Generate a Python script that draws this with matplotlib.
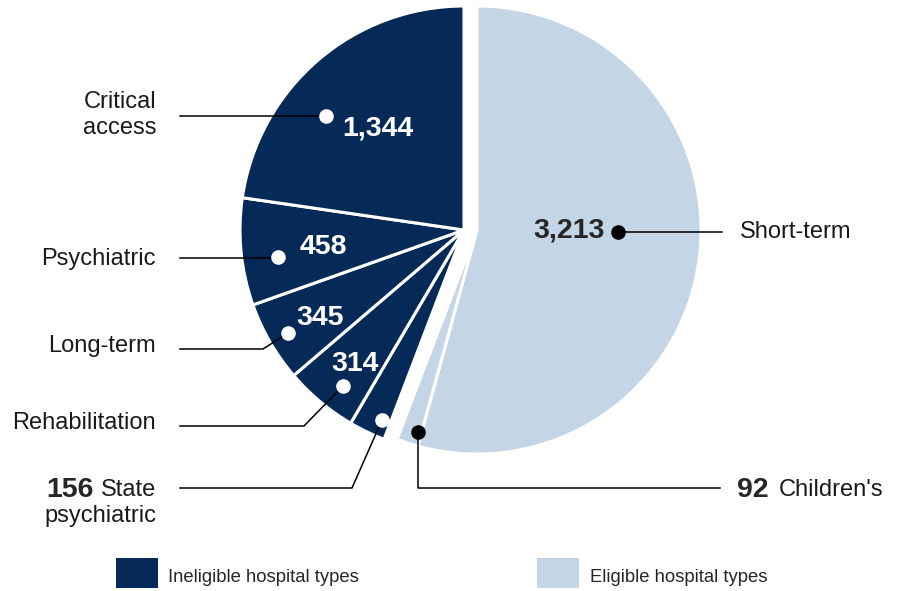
import matplotlib
matplotlib.use("Agg")
import matplotlib.pyplot as plt
from matplotlib.patches import Rectangle

# Hospital counts by type (clockwise from 12 o'clock)
categories = ["Short-term", "Children's", "State psychiatric", "Rehabilitation",
              "Long-term", "Psychiatric", "Critical access"]
counts = [3213, 92, 156, 314, 345, 458, 1344]
eligible = [True, True, False, False, False, False, False]

DARK = "#062a58"
LIGHT = "#c4d5e6"
W, H = 897, 591

plt.rcParams["font.family"] = ["Liberation Sans", "DejaVu Sans"]

fig = plt.figure(figsize=(W / 100, H / 100), dpi=100)
ax = fig.add_axes([0, 0, 1, 1])


def Y(y):
    return H - y


colors = [LIGHT if e else DARK for e in eligible]
radius = 224
# Ineligible group at its own centre, eligible group pulled out to the right
for group_center, show_eligible in [((464, Y(230)), False), ((477, Y(230)), True)]:
    wedges, _ = ax.pie(counts, colors=colors, startangle=90, counterclock=False,
                       radius=radius, center=group_center, frame=True,
                       wedgeprops=dict(edgecolor="white", linewidth=2.2))
    for w, e in zip(wedges, eligible):
        w.set_visible(e == show_eligible)

ax.set_xlim(0, W)
ax.set_ylim(0, H)
ax.set_aspect("equal")
ax.axis("off")

LBL = 17
NUM = 20.5
line_kw = dict(color="black", linewidth=1.1, zorder=3)


def dot(x, y, c):
    ax.plot([x], [Y(y)], "o", color=c, markersize=10.5, markeredgewidth=0, zorder=4)


def leader(points):
    ax.plot([p[0] for p in points], [Y(p[1]) for p in points], **line_kw)


def val(i):
    return f"{counts[i]:,}"


# Critical access
leader([(180, 116), (326, 116)])
dot(326, 116, "white")
ax.text(378, Y(128), val(6), color="white", fontsize=NUM, fontweight="bold",
        ha="center", va="center", zorder=5)
ax.text(156, Y(115), "Critical\naccess", fontsize=LBL, ha="right", va="center",
        linespacing=1.25, color="#1a1a1a")

# Psychiatric
leader([(180, 258), (278, 258)])
dot(278, 257, "white")
ax.text(323, Y(247), val(5), color="white", fontsize=NUM, fontweight="bold",
        ha="center", va="center", zorder=5)
ax.text(156, Y(259), categories[5], fontsize=LBL, ha="right", va="center", color="#1a1a1a")

# Long-term
leader([(180, 349), (263, 349), (288, 333)])
dot(288, 333, "white")
ax.text(320, Y(318), val(4), color="white", fontsize=NUM, fontweight="bold",
        ha="center", va="center", zorder=5)
ax.text(156, Y(346), categories[4], fontsize=LBL, ha="right", va="center", color="#1a1a1a")

# Rehabilitation
leader([(180, 426), (304, 426), (343, 386)])
dot(343, 386, "white")
ax.text(355, Y(364), val(3), color="white", fontsize=NUM, fontweight="bold",
        ha="center", va="center", zorder=5)
ax.text(156, Y(423), categories[3], fontsize=LBL, ha="right", va="center", color="#1a1a1a")

# State psychiatric
leader([(180, 488), (352, 488), (382, 420)])
dot(382, 420, "white")
ax.text(156, Y(490), "State", fontsize=LBL, ha="right", va="center", color="#1a1a1a")
ax.text(94, Y(490), val(2), fontsize=NUM, fontweight="bold", ha="right", va="center",
        color="#262626")
ax.text(156, Y(516), "psychiatric", fontsize=LBL, ha="right", va="center", color="#1a1a1a")

# Children's
leader([(418, 432), (418, 488), (720, 488)])
dot(418, 432, "black")
ax.text(737, Y(490), val(1), fontsize=NUM, fontweight="bold", ha="left", va="center",
        color="#262626")
ax.text(779, Y(490), categories[1], fontsize=LBL, ha="left", va="center", color="#1a1a1a")

# Short-term
leader([(618, 232), (722, 232)])
dot(618, 232, "black")
ax.text(569, Y(231), val(0), fontsize=NUM, fontweight="bold", ha="center", va="center",
        color="#262626", zorder=5)
ax.text(740, Y(232), categories[0], fontsize=LBL, ha="left", va="center", color="#1a1a1a")

# Legend
ax.add_patch(Rectangle((116, Y(588)), 42, 30, color=DARK, linewidth=0))
ax.text(168, Y(577), "Ineligible hospital types", fontsize=13.3, ha="left", va="center",
        color="#262626")
ax.add_patch(Rectangle((537, Y(588)), 42, 30, color=LIGHT, linewidth=0))
ax.text(590, Y(577), "Eligible hospital types", fontsize=13.3, ha="left", va="center",
        color="#262626")

fig.savefig("out.png", dpi=100, facecolor="white")
